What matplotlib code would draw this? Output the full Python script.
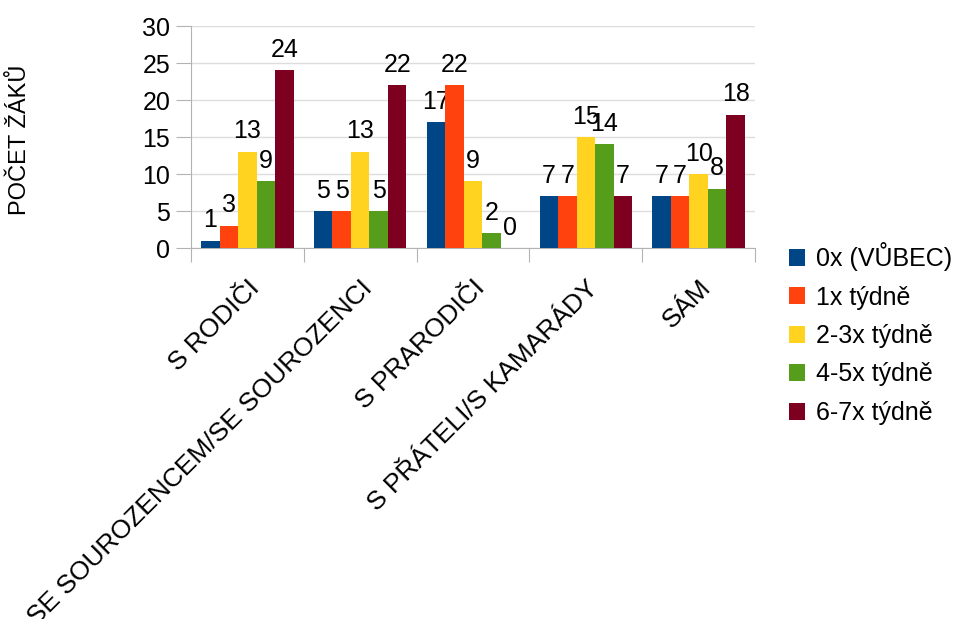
import numpy as np
import matplotlib.pyplot as plt

plt.rcParams['font.family'] = ['Liberation Sans', 'DejaVu Sans']

categories = ["S RODIČI", "SE SOUROZENCEM/SE SOUROZENCI", "S PRARODIČI",
              "S PŘÁTELI/S KAMARÁDY", "SÁM"]
series_names = ["0x (VŮBEC)", "1x týdně", "2-3x týdně", "4-5x týdně", "6-7x týdně"]
v_0x = [1, 5, 17, 7, 7]
v_1x = [3, 5, 22, 7, 7]
v_2_3x = [13, 13, 9, 15, 10]
v_4_5x = [9, 5, 2, 14, 8]
v_6_7x = [24, 22, 0, 7, 18]
colors = ["#004586", "#ff420e", "#ffd320", "#579d1c", "#7e0021"]

series = [v_0x, v_1x, v_2_3x, v_4_5x, v_6_7x]

fig = plt.figure(figsize=(9.62, 6.19), dpi=100)
ax = fig.add_axes([191 / 962, 1 - 248 / 619, (755 - 191) / 962, (248 - 26) / 619])

x = np.arange(len(categories))
w = 0.164
for i, (vals, name, c) in enumerate(zip(series, series_names, colors)):
    pos = x + (i - 2) * w
    ax.bar(pos, vals, width=w, color=c, label=name, zorder=3)
    for p, v in zip(pos, vals):
        ax.annotate(str(v), (p, v), xytext=(0, 6), textcoords="offset points",
                    ha="center", va="bottom", fontsize=18)

ax.set_xlim(-0.5, len(categories) - 0.5)
ax.set_ylim(0, 30)
ax.set_yticks(range(0, 31, 5))
ax.tick_params(axis="y", labelsize=18, length=11, color="#b3b3b3", pad=4)
ax.grid(axis="y", color="#dddddd", linewidth=1, zorder=0)

ax.set_xticks(np.arange(-0.5, len(categories) + 0.5, 1))
ax.set_xticklabels([])
ax.tick_params(axis="x", length=10, color="#b3b3b3")
ax.set_xticks(x, minor=True)
ax.set_xticklabels(categories, minor=True, rotation=45, ha="right",
                   rotation_mode="anchor", fontsize=19)
ax.tick_params(axis="x", which="minor", length=0, pad=20)

for s in ["top", "right"]:
    ax.spines[s].set_visible(False)
for s in ["left", "bottom"]:
    ax.spines[s].set_color("#b3b3b3")

fig.text(20 / 962, 1 - 140 / 619, "POČET ŽÁKŮ", rotation=90, ha="center",
         va="center", fontsize=17)

ax.legend(loc="upper left", bbox_to_anchor=(784 / 962, 1 - 237 / 619),
          bbox_transform=fig.transFigure, frameon=False, fontsize=18,
          handlelength=0.65, handleheight=0.65, handletextpad=0.45,
          labelspacing=0.58, borderaxespad=0, borderpad=0.2)

fig.savefig("out.png", dpi=100)
